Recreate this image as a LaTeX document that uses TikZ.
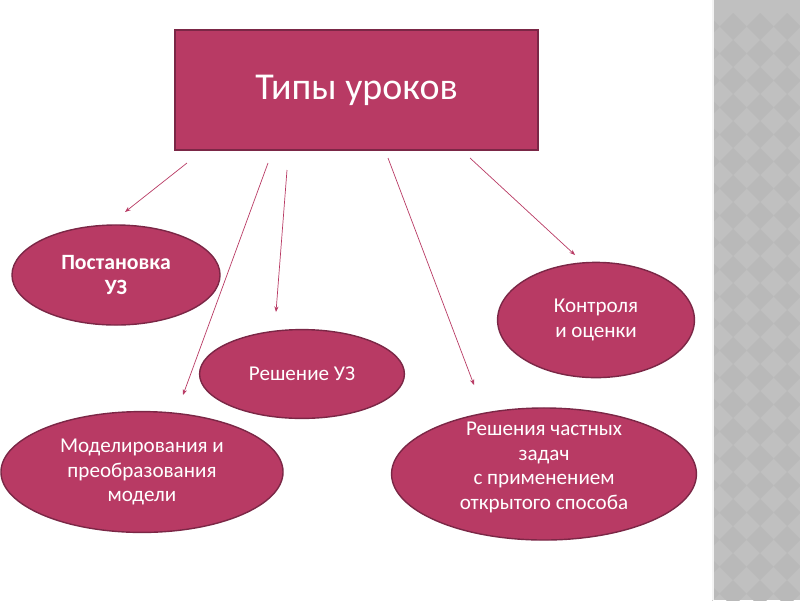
\documentclass[tikz,border=0pt]{standalone}
\usepackage{fontspec}
\setmainfont{Carlito}
\usetikzlibrary{shapes.geometric,arrows.meta}

\definecolor{berry}{HTML}{B83A64}
\definecolor{berrydark}{HTML}{7B2746}
\definecolor{stripgrey}{HTML}{C0C0C0}
\definecolor{stripdark}{HTML}{B9B9B9}

\tikzset{
  lesson/.style={ellipse, draw=berrydark, line width=1pt, fill=berry, text=white,
    align=center, inner sep=0pt, font=\fontsize{15}{17.5}\selectfont},
  link/.style={-{Stealth[length=4pt,width=3pt]}, draw=berry, line width=0.5pt},
}

\begin{document}
\begin{tikzpicture}[x=0.025cm, y=-0.025cm]
      \useasboundingbox (0,0) rectangle (800,600);

      % right strip
      \fill[stripgrey] (712,0) rectangle (800,600);
      \begin{scope}
        \clip (712,0) rectangle (800,600);
        \foreach \i in {0,...,7} {
          \foreach \j in {0,...,23} {
            \fill[stripdark] (706+27*\i,13+27*\j) -- ++(13.5,13.5) -- ++(-13.5,13.5) -- ++(-13.5,-13.5) -- cycle;
          }
        }
      \end{scope}
      \fill[white!80!stripgrey] (712,0) rectangle (714,600);

      \node[draw=berrydark, line width=1pt, fill=berry, text=white,
        minimum width=9.08cm, minimum height=3cm,
        font=\fontsize{27}{32}\selectfont] (types) at (356.5,90) {Типы уроков};

      \node[lesson, minimum width=5.2cm, minimum height=2.5cm,
        font=\fontsize{15.5}{18}\selectfont\bfseries] (setting) at (116,275) {Постановка\\УЗ};
      \node[lesson, minimum width=5.12cm, minimum height=2.22cm] (solving) at (302,374) {Решение УЗ};
      \node[lesson, minimum width=7.05cm, minimum height=3.02cm] (modelling) at (142,472)
        {Моделирования и\\преобразования\\модели};
      \node[lesson, minimum width=4.92cm, minimum height=2.88cm] (control) at (596,320) {Контроля\\и оценки};
      \node[lesson, minimum width=7.62cm, minimum height=3.3cm, inner ysep=-12pt] (partial) at (544,474)
        {Решения частных\\задач\\с применением\\открытого способа\\[-6pt]\mbox{}};

      \coordinate (s1) at (187,163);
      \coordinate (s2) at (268,163);
      \coordinate (s3) at (287,170);
      \coordinate (s4) at (388,158);
      \coordinate (s5) at (470,158);
      \coordinate (t1) at (125,212);
      \coordinate (t2) at (183,395);
      \coordinate (t3) at (276,312);
      \coordinate (t4) at (474,385);
      \coordinate (t5) at (575,255);

      \foreach \k in {1,...,5}
        \draw[link] (s\k) -- (t\k);

\end{tikzpicture}
\end{document}
